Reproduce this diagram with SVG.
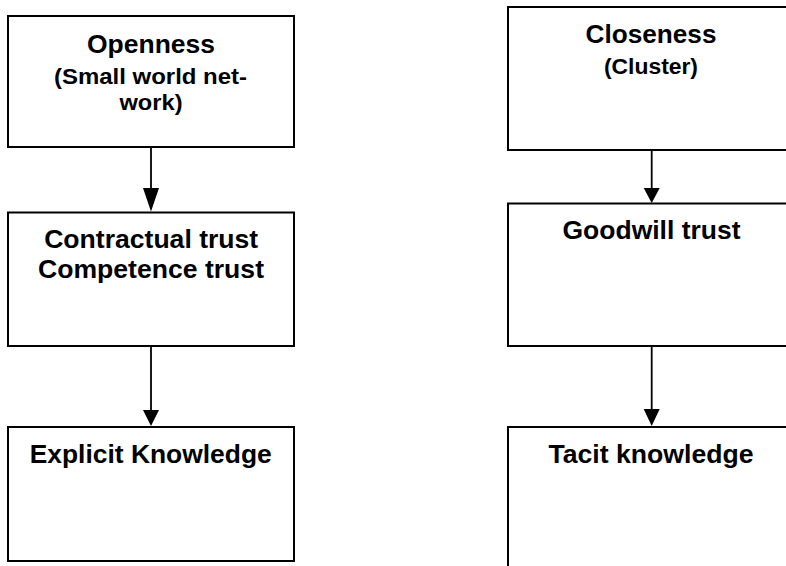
<svg xmlns="http://www.w3.org/2000/svg" width="786" height="566" viewBox="0 0 786 566">
  <style>
    .box { fill: #ffffff; stroke: #000000; stroke-width: 2; }
    .wire { stroke: #000000; stroke-width: 1.8; fill: none; }
    .head { fill: #000000; stroke: none; }
    text { font-family: "Liberation Sans", Arial, Helvetica, sans-serif; font-weight: bold; fill: #000000; text-anchor: middle; }
    .title { font-size: 26px; }
    .sub { font-size: 21.5px; }
  </style>
  <rect width="786" height="566" fill="#ffffff"/>

  <!-- left column -->
  <g id="openness">
    <rect class="box" x="8" y="16" width="286" height="131"/>
    <text class="title" x="151" y="53" textLength="128" lengthAdjust="spacingAndGlyphs">Openness</text>
    <text class="sub" x="150.5" y="84" textLength="193" lengthAdjust="spacingAndGlyphs">(Small world net-</text>
    <text class="sub" x="151" y="110" textLength="63" lengthAdjust="spacingAndGlyphs">work)</text>
  </g>
  <g id="contractual-trust">
    <rect class="box" x="8" y="212.5" width="286" height="133.5"/>
    <text class="title" x="151.2" y="248" textLength="214" lengthAdjust="spacingAndGlyphs">Contractual trust</text>
    <text class="title" x="151" y="278" textLength="226" lengthAdjust="spacingAndGlyphs">Competence trust</text>
  </g>
  <g id="explicit-knowledge">
    <rect class="box" x="8" y="427" width="286" height="134"/>
    <text class="title" x="150.7" y="463" textLength="242" lengthAdjust="spacingAndGlyphs">Explicit Knowledge</text>
  </g>

  <!-- right column -->
  <g id="closeness">
    <rect class="box" x="508" y="7" width="286" height="143"/>
    <text class="title" x="651" y="43" textLength="131" lengthAdjust="spacingAndGlyphs">Closeness</text>
    <text class="sub" x="651" y="74" textLength="94" lengthAdjust="spacingAndGlyphs">(Cluster)</text>
  </g>
  <g id="goodwill-trust">
    <rect class="box" x="508" y="203.5" width="286" height="142.5"/>
    <text class="title" x="651.5" y="239" textLength="178" lengthAdjust="spacingAndGlyphs">Goodwill trust</text>
  </g>
  <g id="tacit-knowledge">
    <rect class="box" x="508" y="427" width="286" height="160"/>
    <text class="title" x="651" y="463" textLength="205" lengthAdjust="spacingAndGlyphs">Tacit knowledge</text>
  </g>

  <!-- connectors -->
  <g id="connectors">
    <line class="wire" x1="151" y1="147" x2="151" y2="192"/>
    <polygon class="head" points="143,188 159,188 151,211.5"/>
    <line class="wire" x1="151" y1="346" x2="151" y2="412"/>
    <polygon class="head" points="143,410 159,410 151,426"/>
    <line class="wire" x1="651.7" y1="150" x2="651.7" y2="190"/>
    <polygon class="head" points="643.7,188 659.7,188 651.7,203"/>
    <line class="wire" x1="651.7" y1="346" x2="651.7" y2="411"/>
    <polygon class="head" points="643.7,409 659.7,409 651.7,426"/>
  </g>
</svg>
